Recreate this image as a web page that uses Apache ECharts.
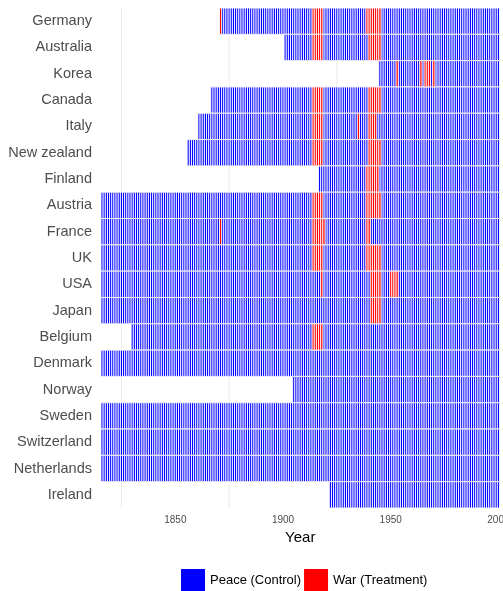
<!DOCTYPE html>
<html>
<head>
<meta charset="utf-8">
<script src="https://cdn.jsdelivr.net/npm/echarts@6/dist/echarts.min.js"></script>
<style>
html,body{margin:0;padding:0;background:#fff;}
#chart{width:503px;height:591px;}
</style>
</head>
<body>
<div id="chart"></div>
<script>
const countries = ["Germany","Australia","Korea","Canada","Italy","New zealand","Finland","Austria","France","UK","USA","Japan","Belgium","Denmark","Norway","Sweden","Switzerland","Netherlands","Ireland"];
const startYears = [1871,1901,1945,1867,1861,1856,1917,1816,1816,1816,1816,1816,1830,1816,1905,1816,1816,1816,1922];
const endYear = 2000;
const warYears = [
  [1871,1914,1915,1916,1917,1918,1939,1940,1941,1942,1943,1944,1945],
  [1914,1915,1916,1917,1918,1940,1941,1942,1943,1944,1945],
  [1953,1964,1966,1967,1968,1970],
  [1914,1915,1916,1917,1918,1940,1941,1942,1943,1944,1945],
  [1914,1915,1916,1917,1918,1935,1940,1941,1942,1943],
  [1914,1915,1916,1917,1918,1940,1941,1942,1943,1944,1945],
  [1939,1940,1941,1942,1943,1944],
  [1914,1915,1916,1917,1918,1939,1940,1941,1942,1943,1944,1945],
  [1871,1914,1915,1916,1917,1918,1919,1939,1940],
  [1914,1915,1916,1917,1918,1939,1940,1941,1942,1943,1944,1945],
  [1918,1941,1942,1943,1944,1945,1950,1951,1952,1953],
  [1941,1942,1943,1944,1945],
  [1914,1915,1916,1917,1918],
  [],[],[],[],[],[]
];
const xTickLabels = [1850,1900,1950,2000];
const minorGridYears = [1825,1875,1925,1975];
const statusNames = ["Peace (Control)","War (Treatment)"];
const statusColors = ["#0000FF","#FF0000"];

const peaceData = [], warData = [];
countries.forEach((c, i) => {
  const wars = warYears[i];
  for (let y = startYears[i]; y <= endYear; y++) {
    if (wars.indexOf(y) >= 0) warData.push([y, c]);
    else peaceData.push([y, c]);
  }
});

function renderTile(params, api) {
  const year = api.value(0);
  const row = api.value(1);
  const p0 = api.coord([year - 0.5, row]);
  const p1 = api.coord([year + 0.5, row]);
  const h = api.size([0, 1])[1];
  return {
    type: 'rect',
    shape: { x: p0[0], y: p0[1] - h / 2, width: p1[0] - p0[0], height: h },
    style: { fill: api.visual('color'), stroke: '#ffffff', lineWidth: 0.9 }
  };
}

function renderGridLine(params, api) {
  const cs = params.coordSys;
  const x = api.coord([api.value(0), countries[0]])[0];
  return {
    type: 'line',
    shape: { x1: x, y1: cs.y, x2: x, y2: cs.y + cs.height },
    style: { stroke: '#ebebeb', lineWidth: 1 }
  };
}

const chart = echarts.init(document.getElementById('chart'), null, { renderer: 'canvas' });
const font = "'Liberation Sans', Arial, sans-serif";
chart.setOption({
  animation: false,
  textStyle: { fontFamily: font },
  grid: { left: 101, right: 3.5, top: 8, bottom: 83, containLabel: false, outerBoundsMode: 'none' },
  legend: {
    data: statusNames,
    left: 181, top: 569, padding: 0,
    icon: 'rect', itemWidth: 24, itemHeight: 22, itemGap: 3,
    textStyle: { fontSize: 13, color: '#000', fontFamily: font }
  },
  xAxis: {
    type: 'value', min: 1815.5, max: 2000.5,
    axisLine: { show: false }, axisTick: { show: false }, splitLine: { show: false },
    axisLabel: { customValues: xTickLabels, formatter: v => String(v), color: '#4d4d4d', fontSize: 10, margin: 7, fontFamily: font },
    name: 'Year', nameLocation: 'middle', nameGap: 22,
    nameTextStyle: { fontSize: 15, color: '#000', fontFamily: font }
  },
  yAxis: {
    type: 'category', data: countries, inverse: true,
    axisLine: { show: false }, axisTick: { show: false }, splitLine: { show: false },
    axisLabel: { color: '#4d4d4d', fontSize: 14.5, margin: 9, fontFamily: font }
  },
  series: [
    {
      name: 'grid', type: 'custom', z: 1, silent: true,
      renderItem: renderGridLine, encode: { x: 0 },
      data: minorGridYears.map(v => [v])
    },
    {
      name: statusNames[0], type: 'custom', z: 2,
      itemStyle: { color: statusColors[0] },
      renderItem: renderTile, encode: { x: 0, y: 1 }, data: peaceData
    },
    {
      name: statusNames[1], type: 'custom', z: 2,
      itemStyle: { color: statusColors[1] },
      renderItem: renderTile, encode: { x: 0, y: 1 }, data: warData
    }
  ]
});
</script>
</body>
</html>
